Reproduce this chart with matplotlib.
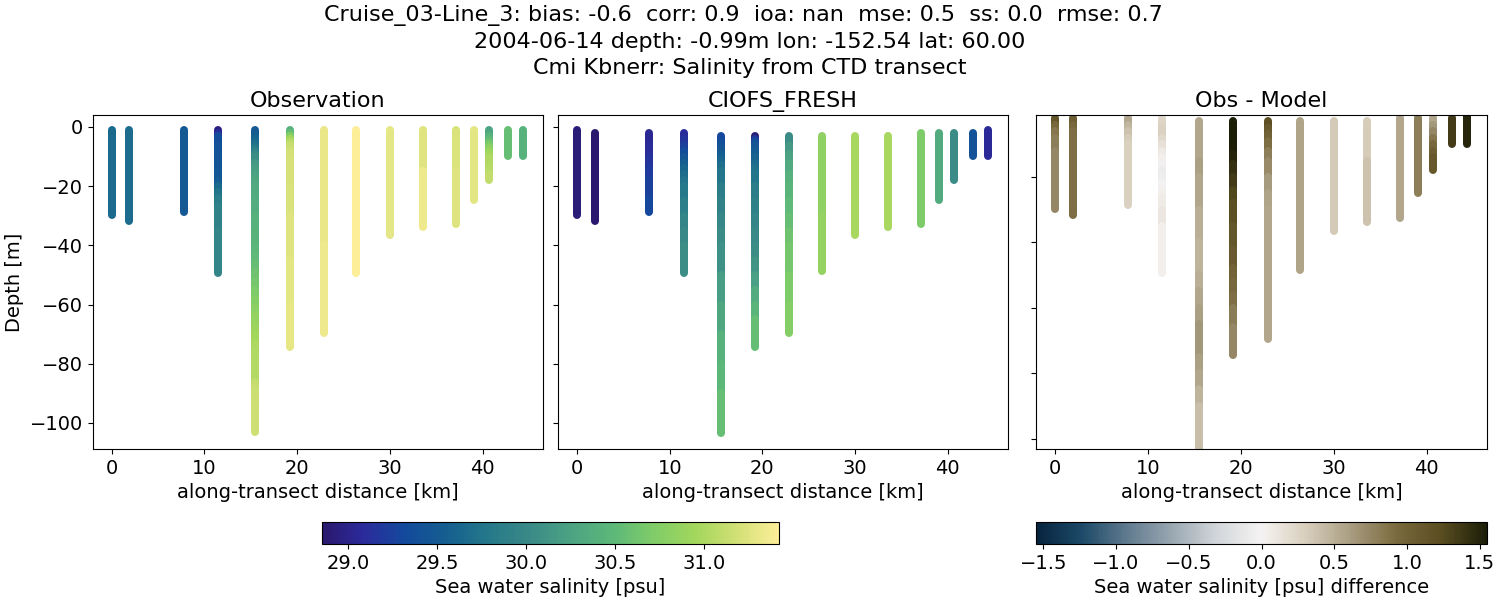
import matplotlib
matplotlib.use('Agg')
import matplotlib.pyplot as plt
from matplotlib.cm import ScalarMappable
from matplotlib.collections import LineCollection
from matplotlib.colors import LinearSegmentedColormap, Normalize

# along-transect position of each cast [km]
distance = [0, 1.9, 7.8, 11.5, 15.5, 19.2, 22.9, 26.4, 30.0, 33.6, 37.1, 39.1, 40.7, 42.7, 44.3]

# Observation: depth readings and salinity per cast
obs_depth = [
    [-1, -29.7], [-1, -31.8], [-1, -28.7],
    [-1, -2, -3, -6, -10, -15, -18, -20, -22, -24, -27, -35, -49.5],
    [-1, -2, -3, -4, -5, -6, -7, -8, -9, -10, -12, -14, -16, -18, -20, -25, -30, -35, -40, -43, -46, -49, -52,
     -55, -58, -61, -64, -67, -70, -73, -76, -80, -84, -86, -88, -90, -95, -103],
    [-1, -2, -3, -4, -5, -6, -8, -10, -20, -30, -45, -60, -74.5],
    [-1, -40, -69.5], [-1, -30, -49.5], [-1, -20, -36.6], [-1, -15, -33.7],
    [-1, -15, -32.7], [-1, -24.8],
    [-1, -2, -3, -4, -5, -6, -7, -8, -9, -10, -12, -14, -16, -17.8], [-1, -9.9], [-1, -9.9],
]
obs_salt = [
    [29.65, 29.65], [29.67, 29.67], [29.48, 29.48],
    [28.95, 29.1, 29.35, 29.4, 29.42, 29.46, 29.5, 29.65, 29.75, 29.85, 29.92, 29.95, 29.95],
    [29.5, 29.5, 29.55, 29.6, 29.65, 29.72, 29.8, 29.9, 30.0, 30.05, 30.15, 30.2, 30.25, 30.3, 30.33, 30.36,
     30.4, 30.43, 30.46, 30.5, 30.55, 30.6, 30.65, 30.7, 30.75, 30.8, 30.85, 30.9, 30.95, 31.0, 31.02,
     31.03, 31.03, 31.1, 31.13, 31.15, 31.16, 31.16],
    [30.4, 30.55, 30.75, 30.95, 31.05, 31.13, 31.18, 31.2, 31.22, 31.25, 31.27, 31.29, 31.3],
    [31.3, 31.33, 31.36], [31.41, 31.41, 31.41], [31.28, 31.28, 31.28], [31.25, 31.33, 31.33],
    [31.22, 31.25, 31.28], [31.27, 31.27],
    [30.25, 30.3, 30.4, 30.5, 30.6, 30.7, 30.8, 30.88, 30.95, 31.0, 31.02, 31.05, 31.1, 31.14],
    [30.55, 30.55], [30.42, 30.42],
]

# Model: depth readings and salinity per cast
mod_depth = [
    [-1, -29.7], [-2, -31.8], [-2, -6, -10, -14, -18, -24, -28.7],
    [-2, -4, -6, -8, -10, -12, -14, -16, -18, -20, -25, -30, -35, -40, -49.5],
    [-3, -5, -7, -9, -11, -13, -15, -20, -25, -30, -35, -40, -50, -60, -70, -80, -90, -103.5],
    [-3, -4, -5, -6, -8, -10, -12, -14, -16, -20, -25, -30, -35, -40, -45, -50, -55, -60, -65, -74.5],
    [-3, -6, -9, -12, -16, -20, -25, -30, -35, -40, -50, -60, -69.5], [-3, -30, -48.5], [-3, -36.6], [-3, -33.7],
    [-2, -32.7], [-2, -24.8], [-2, -17.8], [-2, -9.9], [-1, -9.9],
]
mod_salt = [
    [28.92, 28.92], [28.87, 28.87], [29.05, 29.1, 29.15, 29.2, 29.25, 29.3, 29.3],
    [29.1, 29.15, 29.25, 29.35, 29.45, 29.55, 29.62, 29.68, 29.74, 29.8, 29.88, 29.95, 30.0, 30.05, 30.15],
    [29.3, 29.38, 29.46, 29.54, 29.62, 29.7, 29.76, 29.85, 29.92, 29.98, 30.03, 30.08, 30.2, 30.3, 30.4, 30.48,
     30.55, 30.6],
    [28.9, 29.2, 29.38, 29.45, 29.52, 29.6, 29.66, 29.72, 29.78, 29.85, 29.9, 29.95, 30.0, 30.05, 30.12, 30.22,
     30.35, 30.45, 30.55, 30.6],
    [30.03, 30.15, 30.25, 30.33, 30.4, 30.45, 30.5, 30.55, 30.6, 30.65, 30.7, 30.74, 30.76],
    [30.82, 30.85, 30.85], [30.98, 30.98], [30.98, 30.98],
    [30.7, 30.7], [30.34, 30.34], [30.03, 30.03], [29.42, 29.42], [29.07, 29.07],
]

# Obs - Model: depth readings and difference per cast
dif_depth = [
    [-2, -4, -6, -8, -12, -29.7], [-2, -4, -6, -31.8], [-2, -4, -6, -8, -10, -28.7],
    [-2, -3, -5, -8, -10, -12, -14, -16, -18, -20, -22, -24, -26, -30, -35, -49.5],
    [-3, -8, -15, -20, -30, -40, -50, -55, -60, -65, -70, -75, -80, -85, -90, -95, -106],
    [-3, -10, -13, -16, -20, -24, -28, -35, -42, -48, -52, -56, -60, -66, -74.5],
    [-3, -5, -7, -9, -12, -15, -20, -25, -30, -69.5], [-3, -48.5], [-3, -36.6], [-3, -15, -33.7], [-2, -32.7],
    [-2, -24.8], [-2, -4, -6, -8, -10, -12, -14, -17.8], [-2, -9.9], [-1, -9.9],
]
dif_salt = [
    [1.15, 0.95, 0.85, 0.8, 0.75, 0.75], [1.05, 0.95, 0.9, 0.9], [0.55, 0.45, 0.38, 0.32, 0.28, 0.26],
    [0.2, 0.25, 0.28, 0.22, 0.15, 0.08, 0.03, -0.03, -0.08, -0.06, -0.02, 0.03, 0.07, 0.1, 0.03, -0.04],
    [0.55, 0.55, 0.6, 0.55, 0.5, 0.48, 0.5, 0.55, 0.6, 0.65, 0.65, 0.6, 0.55, 0.48, 0.4, 0.4, 0.42],
    [1.55, 1.55, 1.5, 1.42, 1.35, 1.28, 1.22, 1.15, 1.1, 1.0, 0.95, 0.9, 0.82, 0.75, 0.68],
    [1.2, 1.1, 1.0, 0.9, 0.8, 0.72, 0.62, 0.58, 0.55, 0.55], [0.58, 0.58], [0.33, 0.33], [0.32, 0.38, 0.4],
    [0.55, 0.58], [0.8, 0.8], [0.55, 0.65, 0.75, 0.85, 0.95, 1.05, 1.12, 1.18], [1.35, 1.35], [1.5, 1.5],
]

# colormaps (cmocean haline / diff look alikes)
haline = LinearSegmentedColormap.from_list('haline', [
    '#2a186c', '#2b2b9c', '#134a9c', '#155f90', '#25788a', '#3a8a87',
    '#4ba383', '#5cb879', '#80cc68', '#a2d75c', '#d2e075', '#fdee99'])
diff = LinearSegmentedColormap.from_list('diff', [
    '#07233e', '#1c4a68', '#5f7a8e', '#99a7b1', '#d2d6da', '#f5f3f2',
    '#d8cebc', '#a89c80', '#7a6a3e', '#5a4d20', '#1c1e08'])
salt_norm = Normalize(28.85, 31.42)
diff_norm = Normalize(-1.55, 1.55)

plt.rcParams['font.size'] = 14


def px_axes(fig, left, top, right, bottom):
    # axes placed from pixel edges of the 1500x600 figure
    return fig.add_axes([left / 1500, 1 - bottom / 600, (right - left) / 1500, (bottom - top) / 600])


def draw_casts(ax, depths, values, cmap, norm):
    for x, dep, val in zip(distance, depths, values):
        segments = [[(x, dep[i]), (x, dep[i + 1])] for i in range(len(dep) - 1)]
        lc = LineCollection(segments, cmap=cmap, norm=norm, linewidths=5.76, capstyle='round')
        lc.set_array(val[:-1])
        ax.add_collection(lc)
    ax.set_xlim(-2.05, 46.5)
    ax.set_xlabel('along-transect distance [km]')
    ax.set_xticks([0, 10, 20, 30, 40])
    ax.set_yticks([0, -20, -40, -60, -80, -100])


fig = plt.figure(figsize=(15, 6), dpi=100)

ax1 = px_axes(fig, 92.5, 115, 543, 449)
draw_casts(ax1, obs_depth, obs_salt, haline, salt_norm)
ax1.set_ylim(-108.8, 4.05)
ax1.set_ylabel('Depth [m]')
ax1.set_title('Observation', fontsize=16, pad=6)

ax2 = px_axes(fig, 558, 115, 1008, 449)
draw_casts(ax2, mod_depth, mod_salt, haline, salt_norm)
ax2.set_ylim(-108.8, 4.05)
ax2.set_yticklabels([])
ax2.set_title('CIOFS_FRESH', fontsize=16, pad=6)

ax3 = px_axes(fig, 1036, 115, 1487, 449)
draw_casts(ax3, dif_depth, dif_salt, diff, diff_norm)
ax3.set_ylim(-103.2, -1.07)
ax3.set_yticklabels([])
ax3.set_title('Obs - Model', fontsize=16, pad=6)

cax1 = px_axes(fig, 321.5, 522, 779, 544)
cb1 = fig.colorbar(ScalarMappable(salt_norm, haline), cax=cax1, orientation='horizontal')
cb1.set_ticks([29.0, 29.5, 30.0, 30.5, 31.0])
cb1.set_label('Sea water salinity [psu]')

cax2 = px_axes(fig, 1036, 522, 1487, 544)
cb2 = fig.colorbar(ScalarMappable(diff_norm, diff), cax=cax2, orientation='horizontal')
cb2.set_ticks([-1.5, -1.0, -0.5, 0.0, 0.5, 1.0, 1.5])
cb2.set_label('Sea water salinity [psu] difference')

fig.text(0.5, 0.992, 'Cruise_03-Line_3: bias: -0.6  corr: 0.9  ioa: nan  mse: 0.5  ss: 0.0  rmse: 0.7  \n'
         '2004-06-14 depth: -0.99m lon: -152.54 lat: 60.00\n'
         'Cmi Kbnerr: Salinity from CTD transect', ha='center', va='top', fontsize=16, linespacing=1.37)

fig.savefig('out.png', dpi=100)
